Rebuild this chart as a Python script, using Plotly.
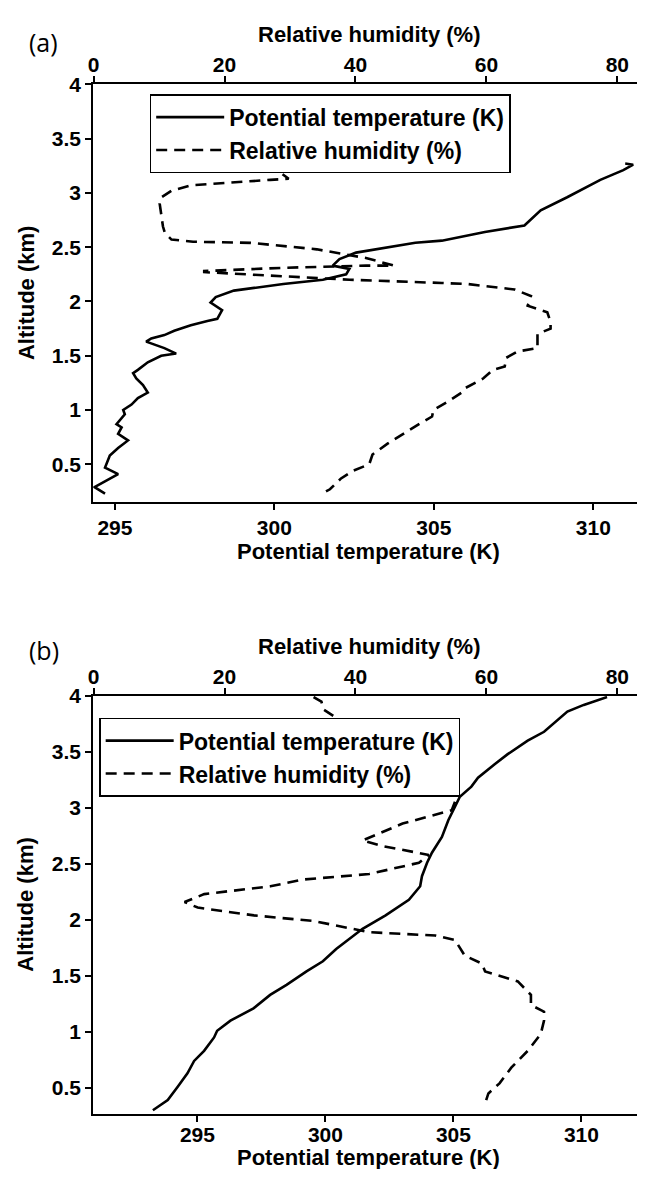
import plotly.graph_objects as go

PAGE_W, PAGE_H = 645, 1177
OFF = 8  # default page margin around the figure
W, H = PAGE_W - 2 * OFF, PAGE_H - 2 * OFF

# ---------------- Panel (a) data ----------------
theta_a = [294.69, 294.36, 295.10, 294.69, 294.84, 295.10, 295.41, 295.10, 295.21, 295.05,
           295.31, 295.26, 295.52, 295.72, 296.03, 295.88, 295.67, 295.57, 295.72, 296.03,
           296.45, 296.92, 296.55, 296.14, 295.98, 296.14, 296.55, 296.86, 297.38, 297.90,
           298.21, 298.36, 298.16, 298.00, 298.16, 298.73, 300.28, 301.52, 302.25, 302.35,
           301.83, 302.04, 302.56, 303.39, 304.42, 305.25, 306.60, 307.84, 308.15, 308.35,
           309.18, 310.22, 310.94, 311.25, 311.00]
alt_theta_a = [0.23, 0.29, 0.41, 0.47, 0.58, 0.65, 0.72, 0.78, 0.84, 0.87,
               0.96, 1.00, 1.05, 1.11, 1.16, 1.23, 1.29, 1.34, 1.37, 1.44,
               1.50, 1.52, 1.57, 1.61, 1.63, 1.66, 1.69, 1.73, 1.78, 1.82,
               1.84, 1.92, 1.96, 1.99, 2.04, 2.10, 2.16, 2.20, 2.25, 2.30,
               2.33, 2.39, 2.45, 2.49, 2.54, 2.56, 2.64, 2.70, 2.78, 2.84,
               2.96, 3.12, 3.21, 3.26, 3.27]

rh_a = [28.0, 28.8, 28.2, 29.8, 27.0, 14.9, 11.9, 10.4, 10.1, 10.4,
        10.6, 10.9, 11.9, 15.2, 24.0, 34.1, 41.6, 45.9, 41.6, 29.0,
        16.9, 16.9, 31.5, 39.1, 53.2, 57.2, 64.3, 66.8, 66.3, 69.3,
        69.8, 69.8, 67.8, 67.8, 64.8, 63.0, 62.8, 61.0, 59.5, 56.7,
        56.2, 54.2, 51.9, 51.7, 49.7, 47.2, 44.9, 42.6, 42.1, 39.6,
        37.8, 36.1, 35.5]
alt_rh_a = [3.28, 3.23, 3.20, 3.13, 3.12, 3.07, 3.02, 2.96, 2.90, 2.78,
            2.69, 2.63, 2.57, 2.55, 2.54, 2.48, 2.40, 2.33, 2.33, 2.31,
            2.28, 2.27, 2.22, 2.20, 2.17, 2.16, 2.11, 2.05, 1.96, 1.90,
            1.81, 1.75, 1.70, 1.57, 1.54, 1.48, 1.40, 1.37, 1.29, 1.20,
            1.16, 1.08, 1.00, 0.94, 0.87, 0.78, 0.69, 0.59, 0.50, 0.44,
            0.37, 0.27, 0.25]

# ---------------- Panel (b) data ----------------
theta_b = [293.26, 293.84, 294.23, 294.61, 294.87, 295.26, 295.65, 295.77, 296.29, 297.19,
           297.84, 298.48, 299.26, 299.90, 300.42, 301.45, 302.35, 303.26, 303.70, 303.77,
           303.97, 304.16, 304.55, 304.80, 305.06, 305.25, 305.70, 305.96, 306.61, 307.12,
           307.90, 308.54, 309.45, 310.09, 311.00]
alt_theta_b = [0.30, 0.39, 0.51, 0.63, 0.74, 0.83, 0.95, 1.01, 1.10, 1.21,
               1.33, 1.42, 1.54, 1.63, 1.74, 1.92, 2.04, 2.18, 2.30, 2.39,
               2.51, 2.60, 2.74, 2.89, 3.01, 3.10, 3.19, 3.27, 3.39, 3.48,
               3.60, 3.68, 3.86, 3.92, 3.99]

rh_b = [33.6, 34.8, 35.1, 55.0, 55.3, 54.7, 47.2, 41.1, 44.1, 51.2,
        49.7, 42.1, 32.0, 27.0, 16.9, 13.9, 15.9, 24.5, 33.6, 42.1,
        52.2, 55.2, 56.7, 59.3, 59.8, 64.8, 66.8, 66.8, 68.8, 68.8,
        68.3, 66.3, 63.8, 62.0, 60.3, 59.8]
alt_rh_b = [3.99, 3.95, 3.88, 3.11, 3.07, 2.98, 2.86, 2.71, 2.66, 2.58,
            2.51, 2.41, 2.36, 2.30, 2.23, 2.16, 2.11, 2.04, 1.99, 1.89,
            1.86, 1.82, 1.68, 1.61, 1.54, 1.45, 1.33, 1.24, 1.18, 1.10,
            0.98, 0.83, 0.68, 0.54, 0.45, 0.36]

alt_ticks = [0.5, 1, 1.5, 2, 2.5, 3, 3.5, 4]
theta_ticks = [295, 300, 305, 310]
rh_ticks = [0, 20, 40, 60, 80]

LABEL_THETA = "Potential temperature (K)"
LABEL_RH = "Relative humidity (%)"
LABEL_ALT = "Altitude (km)"

FONT = "Liberation Sans, Arial, sans-serif"
tick_font = dict(family=FONT, size=21, color="black", weight="bold")
title_font = dict(family=FONT, size=22, color="black", weight="bold")
legend_font = dict(family=FONT, size=23, color="black", weight="bold")


def px_x(x):
    return min(1.0, max(0.0, (x - OFF) / W))


def px_y(y):
    return min(1.0, max(0.0, 1 - (y - OFF) / H))


xdom = [px_x(88), px_x(637)]
ydom_a = [px_y(495), px_y(73)]
ydom_b = [px_y(1113), px_y(691)]

line_solid = dict(color="black", width=2.6)
line_dash = dict(color="black", width=2.6, dash="11px,7px")

fig = go.Figure()
fig.add_trace(go.Scatter(x=theta_a, y=alt_theta_a, mode="lines", line=line_solid,
                         name=LABEL_THETA, xaxis="x", yaxis="y", legend="legend"))
fig.add_trace(go.Scatter(x=rh_a, y=alt_rh_a, mode="lines", line=line_dash,
                         name=LABEL_RH, xaxis="x2", yaxis="y", legend="legend"))
fig.add_trace(go.Scatter(x=theta_b, y=alt_theta_b, mode="lines", line=line_solid,
                         name=LABEL_THETA, xaxis="x3", yaxis="y2", legend="legend2"))
fig.add_trace(go.Scatter(x=rh_b, y=alt_rh_b, mode="lines", line=line_dash,
                         name=LABEL_RH, xaxis="x4", yaxis="y2", legend="legend2"))

common = dict(showline=True, linecolor="black", linewidth=2, ticks="outside",
              ticklen=6, tickwidth=2, tickcolor="black", showgrid=False,
              zeroline=False, tickfont=tick_font)

fig.update_layout(
    width=W, height=H,
    margin=dict(l=0, r=0, t=0, b=0),
    paper_bgcolor="white", plot_bgcolor="white",
    xaxis=dict(domain=xdom, range=[294.32, 311.37], tickvals=theta_ticks,
               anchor="y", side="bottom", ticklabelstandoff=0, **common),
    xaxis2=dict(domain=xdom, range=[-0.05, 83.0], tickvals=rh_ticks,
                anchor="y", overlaying="x", side="top", ticklabelstandoff=-4, **common),
    yaxis=dict(domain=ydom_a, range=[0.153, 4.0], tickvals=alt_ticks,
               anchor="x", side="left", **common),
    xaxis3=dict(domain=xdom, range=[290.93, 312.17], tickvals=theta_ticks,
                anchor="y2", side="bottom", ticklabelstandoff=-5, **common),
    xaxis4=dict(domain=xdom, range=[-0.05, 83.0], tickvals=rh_ticks,
                anchor="y2", overlaying="x3", side="top", ticklabelstandoff=-4, **common),
    yaxis2=dict(domain=ydom_b, range=[0.27, 4.0], tickvals=alt_ticks,
                anchor="x3", side="left", **common),
    legend=dict(x=px_x(145), y=px_y(83), xanchor="left", yanchor="top",
                bgcolor="white", bordercolor="black", borderwidth=1.5,
                font=legend_font, itemwidth=68, tracegroupgap=0),
    legend2=dict(x=px_x(94), y=px_y(713), xanchor="left", yanchor="top",
                 bgcolor="white", bordercolor="black", borderwidth=1.5,
                 font=legend_font, itemwidth=68, tracegroupgap=0),
    showlegend=True,
)

annotations = [
    dict(text="(a)", x=px_x(38), y=px_y(30), font=dict(family="Open Sans, sans-serif", size=25, color="black")),
    dict(text="(b)", x=px_x(38), y=px_y(645), font=dict(family="Open Sans, sans-serif", size=25, color="black")),
    dict(text=LABEL_RH, x=px_x(366), y=px_y(23), font=title_font),
    dict(text=LABEL_RH, x=px_x(366), y=px_y(641), font=title_font),
    dict(text=LABEL_THETA, x=px_x(366), y=px_y(545), font=title_font),
    dict(text=LABEL_THETA, x=px_x(366), y=px_y(1157), font=title_font),
    dict(text=LABEL_ALT, x=px_x(20), y=px_y(284), font=title_font, textangle=-90),
    dict(text=LABEL_ALT, x=px_x(20), y=px_y(902), font=title_font, textangle=-90),
]
for a in annotations:
    a.update(xref="paper", yref="paper", xanchor="center", yanchor="middle", showarrow=False)
fig.update_layout(annotations=annotations)

fig.write_html("out.html")
